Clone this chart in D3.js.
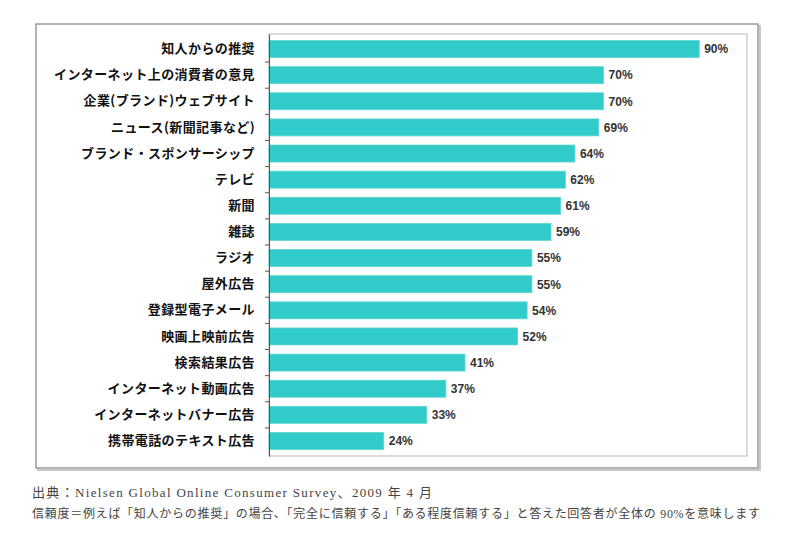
<!DOCTYPE html>
<html><head><meta charset="utf-8">
<script src="https://cdn.jsdelivr.net/npm/d3@7"></script>
<style>body{margin:0;background:#fff}svg{display:block}</style>
</head><body>
<svg id="chart" width="800" height="549"></svg>
<script>
const categories = ["知人からの推奨","インターネット上の消費者の意見","企業(ブランド)ウェブサイト","ニュース(新聞記事など)","ブランド・スポンサーシップ","テレビ","新聞","雑誌","ラジオ","屋外広告","登録型電子メール","映画上映前広告","検索結果広告","インターネット動画広告","インターネットバナー広告","携帯電話のテキスト広告"];
const values = [90,70,70,69,64,62,61,59,55,55,54,52,41,37,33,24];
const sourceNote = "出典：Nielsen Global Online Consumer Survey、2009 年 4 月";
const definitionNote = "信頼度＝例えば「知人からの推奨」の場合、「完全に信頼する」「ある程度信頼する」と答えた回答者が全体の 90%を意味します";

const svg = d3.select("#chart");
const plot = {left:269, right:747, top:34, bottom:456};

// outer frame with shadow
svg.append("rect").attr("x",38).attr("y",26).attr("width",722).attr("height",444)
  .attr("fill","none").attr("stroke","#c8c8c8").attr("stroke-width",2);
svg.append("rect").attr("x",36).attr("y",24).attr("width",722).attr("height",444)
  .attr("fill","#fff").attr("stroke","#9a9a9a").attr("stroke-width",1.5);

const x = d3.scaleLinear().domain([0,100]).range([plot.left, plot.right]);
const y = d3.scaleBand().domain(categories).range([plot.top, plot.bottom])
  .paddingInner(0.35).paddingOuter(0.25);

// plot area box
svg.append("rect").attr("x",plot.left).attr("y",plot.top)
  .attr("width",plot.right-plot.left).attr("height",plot.bottom-plot.top)
  .attr("fill","none").attr("stroke","#c4c4c4").attr("stroke-width",1.2);

// bars
svg.append("g").selectAll("rect").data(values).join("rect")
  .attr("x", x(0))
  .attr("y",(d,i)=>y(categories[i]))
  .attr("width", d=>x(d)-x(0))
  .attr("height", y.bandwidth())
  .attr("fill","#31cbc9")
  .attr("stroke","#5fd6d4").attr("stroke-width",0.8);

// category axis
const yAxis = d3.axisLeft(y).tickSize(0).tickPadding(14);
const ga = svg.append("g").attr("transform",`translate(${plot.left},0)`).call(yAxis);
ga.select(".domain").attr("stroke","#555").attr("stroke-width",1);
ga.selectAll("text")
  .attr("font-family","'Noto Sans CJK JP', sans-serif")
  .attr("font-weight","bold").attr("font-size","13px")
  .attr("letter-spacing","0.4px").attr("fill","#111");

// ticks between bands
const step = y.step();
svg.append("g").selectAll("line").data(categories.slice(1)).join("line")
  .attr("x1", plot.left-4).attr("x2", plot.left)
  .attr("y1", d=>y(d)-step*y.paddingInner()/2)
  .attr("y2", d=>y(d)-step*y.paddingInner()/2)
  .attr("stroke","#555").attr("stroke-width",1);

// value labels
svg.append("g").selectAll("text").data(values).join("text")
  .attr("x", d=>x(d)+5)
  .attr("y",(d,i)=>y(categories[i])+y.bandwidth()/2)
  .attr("dy","0.36em")
  .attr("font-family","'Liberation Sans Narrow','Liberation Sans',sans-serif")
  .attr("font-size","12px").attr("font-weight","bold").attr("fill","#333")
  .text(d=>d+"%");

// notes
svg.append("text").attr("x",32).attr("y",497)
  .attr("font-family","'Liberation Serif','Noto Sans CJK JP',serif")
  .attr("font-size","13px").attr("fill","#444")
  .attr("textLength",400).attr("lengthAdjust","spacing").text(sourceNote);
svg.append("text").attr("x",32).attr("y",518)
  .attr("font-family","'Liberation Serif','Noto Sans CJK JP',serif")
  .attr("font-size","12px").attr("fill","#444")
  .attr("textLength",728).attr("lengthAdjust","spacing").text(definitionNote);
</script>
</body></html>
